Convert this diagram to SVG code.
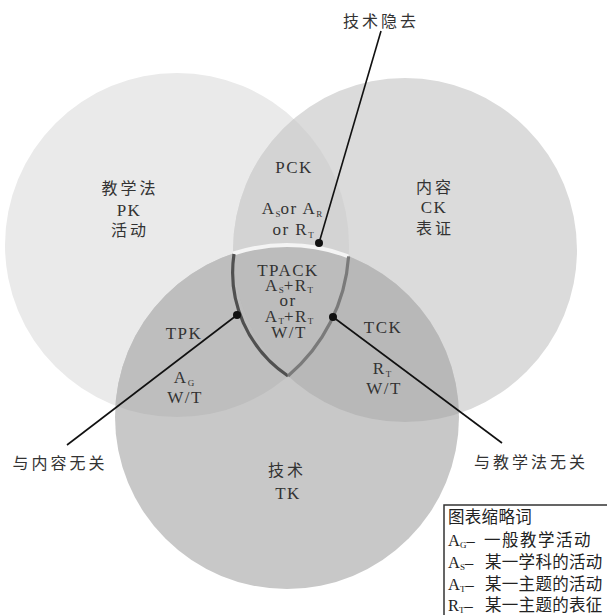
<svg xmlns="http://www.w3.org/2000/svg" width="607" height="615" viewBox="0 0 607 615">
  <style>
    .lat { font-family: "Liberation Serif", "Noto Sans CJK SC", serif; fill: #333; text-anchor: middle; font-size: 17px; letter-spacing: 1.5px; }
    .cjk { font-family: "Noto Sans CJK SC", "Liberation Serif", sans-serif; fill: #333; text-anchor: middle; font-size: 16px; letter-spacing: 3px; }
    .sub { font-size: 9px; letter-spacing: 0; }
    .leg { font-family: "Liberation Serif", "Noto Sans CJK SC", serif; fill: #222; font-size: 16.5px; }
    .lead { stroke: #111; stroke-width: 1.6; fill: none; }
    .dot { fill: #111; }
  </style>
  <defs>
    <circle id="cL" cx="177" cy="245" r="172"/>
    <circle id="cR" cx="405" cy="250" r="172"/>
    <circle id="cB" cx="287" cy="417" r="172"/>
    <clipPath id="clipL"><use href="#cL"/></clipPath>
    <clipPath id="clipR"><use href="#cR"/></clipPath>
    <clipPath id="clipLR" clip-path="url(#clipL)"><use href="#cR"/></clipPath>
  </defs>
  <rect width="607" height="615" fill="#ffffff"/>

  <!-- circles and their overlaps -->
  <g id="circles">
    <use href="#cL" fill="#eaeaea"/>
    <use href="#cR" fill="#dbdbdb"/>
    <use href="#cB" fill="#c8c8c8"/>
    <g clip-path="url(#clipL)"><use href="#cR" fill="#d3d3d3"/></g>
    <g clip-path="url(#clipL)"><use href="#cB" fill="#bebebe"/></g>
    <g clip-path="url(#clipR)"><use href="#cB" fill="#b8b8b8"/></g>
    <g clip-path="url(#clipLR)"><use href="#cB" fill="#bcbcbc"/></g>
    <g clip-path="url(#clipLR)"><use href="#cB" fill="none" stroke="#f4f4f4" stroke-width="4"/></g>
  </g>

  <!-- TPACK outline -->
  <g id="tpack-outline">
    <path d="M234,254 A125,125 0 0 0 288,376" fill="none" stroke="#505050" stroke-width="3.2"/>
    <path d="M348.6,256.4 A172,172 0 0 1 288,376" fill="none" stroke="#7a7a7a" stroke-width="3.2"/>
  </g>

  <!-- leader lines -->
  <g id="connectors">
    <line class="lead" x1="381" y1="31" x2="319" y2="243"/>
    <circle class="dot" cx="319" cy="243" r="4"/>
    <line class="lead" x1="237" y1="315" x2="67" y2="445"/>
    <circle class="dot" cx="237" cy="315" r="4"/>
    <line class="lead" x1="333" y1="317" x2="502" y2="443"/>
    <circle class="dot" cx="333" cy="317" r="4"/>
  </g>

  <g id="pk">
    <text class="cjk" x="130" y="194">教学法</text>
    <text class="lat" x="129" y="216" font-size="16">PK</text>
    <text class="cjk" x="130" y="236">活动</text>
  </g>
  <g id="ck">
    <text class="cjk" x="435" y="193">内容</text>
    <text class="lat" x="434" y="213" font-size="16">CK</text>
    <text class="cjk" x="435" y="234">表证</text>
  </g>
  <g id="tk">
    <text class="cjk" x="287" y="476">技术</text>
    <text class="lat" x="288" y="499" font-size="16">TK</text>
  </g>
  <g id="pck">
    <text class="lat" x="294" y="173">PCK</text>
    <text class="lat" x="292" y="214">A<tspan class="sub" dy="3">S</tspan><tspan dy="-3">or A</tspan><tspan class="sub" dy="3">R</tspan></text>
    <text class="lat" x="293" y="235">or R<tspan class="sub" dy="3">T</tspan></text>
  </g>
  <g id="tpack">
    <text class="lat" x="288" y="276" font-size="18">TPACK</text>
    <text class="lat" x="289" y="291" font-size="15">A<tspan class="sub" dy="2">S</tspan><tspan dy="-2">+R</tspan><tspan class="sub" dy="2">T</tspan></text>
    <text class="lat" x="288" y="306" font-size="15">or</text>
    <text class="lat" x="289" y="322" font-size="15">A<tspan class="sub" dy="2">T</tspan><tspan dy="-2">+R</tspan><tspan class="sub" dy="2">T</tspan></text>
    <text class="lat" x="289" y="338" font-size="16" letter-spacing="3">W/T</text>
  </g>
  <g id="tpk">
    <text class="lat" x="184" y="339">TPK</text>
    <text class="lat" x="184" y="383">A<tspan class="sub" dy="3">G</tspan></text>
    <text class="lat" x="185" y="403" letter-spacing="3">W/T</text>
  </g>
  <g id="tck">
    <text class="lat" x="383" y="333">TCK</text>
    <text class="lat" x="382" y="374">R<tspan class="sub" dy="3">T</tspan></text>
    <text class="lat" x="384" y="394" letter-spacing="3">W/T</text>
  </g>

  <g id="callouts">
    <text class="cjk" x="381" y="27">技术隐去</text>
    <text class="cjk" x="60" y="469">与内容无关</text>
    <text class="cjk" x="531" y="468">与教学法无关</text>
  </g>

  <g id="legend">
    <rect x="444" y="505" width="200" height="150" fill="#ffffff" stroke="#333" stroke-width="1.5"/>
    <text class="leg" x="448" y="523" letter-spacing="0.3">图表缩略词</text>
    <text class="leg" x="448" y="546">A<tspan class="sub" dy="2">G</tspan><tspan dy="-2">–</tspan><tspan x="484" letter-spacing="1.5">一般教学活动</tspan></text>
    <text class="leg" x="448" y="568">A<tspan class="sub" dy="2">S</tspan><tspan dy="-2">–</tspan><tspan x="485" letter-spacing="0.3">某一学科的活动</tspan></text>
    <text class="leg" x="448" y="590">A<tspan class="sub" dy="2">T</tspan><tspan dy="-2">–</tspan><tspan x="485" letter-spacing="0.3">某一主题的活动</tspan></text>
    <text class="leg" x="448" y="611">R<tspan class="sub" dy="2">T</tspan><tspan dy="-2">–</tspan><tspan x="485" letter-spacing="0.3">某一主题的表征</tspan></text>
  </g>
</svg>
